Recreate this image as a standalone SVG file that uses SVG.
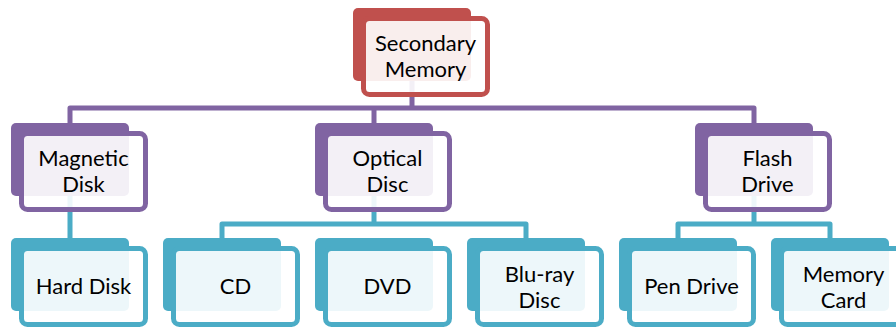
<svg xmlns="http://www.w3.org/2000/svg" width="896" height="328" viewBox="0 0 896 328">
<style>
.bg{fill:#fff}
.conn{fill:none;stroke-width:5;stroke-linejoin:round}
.cp{stroke:#8064A2}
.ct{stroke:#4BACC6}
.back{stroke:none}
.front{fill:#fff;fill-opacity:0.9;stroke-width:5}
.red .back{fill:#C0504D}.red .front{stroke:#C0504D}
.pur .back{fill:#8064A2}.pur .front{stroke:#8064A2}
.teal .back{fill:#4BACC6}.teal .front{stroke:#4BACC6}
text{font-family:Lato,"Liberation Sans",sans-serif;font-size:22px;fill:#000;text-anchor:middle}
</style>
<rect class="bg" x="0" y="0" width="896" height="328"/>
<g id="connectors">
<path class="conn cp" d="M412,80 V108 M70,123 V108 H754 V123 M374,108 V123"/>
<path class="conn ct" d="M70,195 V238 M374,195 V224 M222,238 V224 H526 V238 M754,195 V224 M678,238 V224 H830 V238"/>
</g>
<g id="secondary-memory" class="red">
<rect class="back" x="353" y="8" width="118" height="73" rx="5"/>
<rect class="front" x="363.5" y="18.5" width="124" height="76" rx="6"/>
<text x="425.5" y="51">Secondary</text>
<text x="425.5" y="77">Memory</text>
</g>
<g id="magnetic-disk" class="pur">
<rect class="back" x="11" y="123" width="118" height="73" rx="5"/>
<rect class="front" x="21.5" y="133.5" width="124" height="76" rx="6"/>
<text x="83.5" y="166">Magnetic</text>
<text x="83.5" y="192">Disk</text>
</g>
<g id="optical-disc" class="pur">
<rect class="back" x="315" y="123" width="118" height="73" rx="5"/>
<rect class="front" x="325.5" y="133.5" width="124" height="76" rx="6"/>
<text x="387.5" y="166">Optical</text>
<text x="387.5" y="192">Disc</text>
</g>
<g id="flash-drive" class="pur">
<rect class="back" x="695" y="123" width="118" height="73" rx="5"/>
<rect class="front" x="705.5" y="133.5" width="124" height="76" rx="6"/>
<text x="767.5" y="166">Flash</text>
<text x="767.5" y="192">Drive</text>
</g>
<g id="hard-disk" class="teal">
<rect class="back" x="11" y="238" width="118" height="73" rx="5"/>
<rect class="front" x="21.5" y="248.5" width="124" height="76" rx="6"/>
<text x="83.5" y="294">Hard Disk</text>
</g>
<g id="cd" class="teal">
<rect class="back" x="163" y="238" width="118" height="73" rx="5"/>
<rect class="front" x="173.5" y="248.5" width="124" height="76" rx="6"/>
<text x="235.5" y="294">CD</text>
</g>
<g id="dvd" class="teal">
<rect class="back" x="315" y="238" width="118" height="73" rx="5"/>
<rect class="front" x="325.5" y="248.5" width="124" height="76" rx="6"/>
<text x="387.5" y="294">DVD</text>
</g>
<g id="blu-ray-disc" class="teal">
<rect class="back" x="467" y="238" width="118" height="73" rx="5"/>
<rect class="front" x="477.5" y="248.5" width="124" height="76" rx="6"/>
<text x="539.5" y="282">Blu-ray</text>
<text x="539.5" y="308">Disc</text>
</g>
<g id="pen-drive" class="teal">
<rect class="back" x="619" y="238" width="118" height="73" rx="5"/>
<rect class="front" x="629.5" y="248.5" width="124" height="76" rx="6"/>
<text x="691.5" y="294">Pen Drive</text>
</g>
<g id="memory-card" class="teal">
<rect class="back" x="771" y="238" width="118" height="73" rx="5"/>
<rect class="front" x="781.5" y="248.5" width="124" height="76" rx="6"/>
<text x="843.5" y="282">Memory</text>
<text x="843.5" y="308">Card</text>
</g>
</svg>
